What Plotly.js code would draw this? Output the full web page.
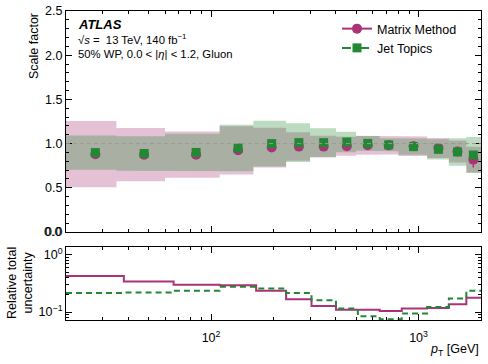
<!DOCTYPE html>
<html>
<head>
<meta charset="utf-8">
<script src="https://cdn.plot.ly/plotly-3.0.1.min.js"></script>
<style>body{margin:0;background:#fff}</style>
</head>
<body>
<div id="plot" style="width:488px;height:364px"></div>
<script>
// pT bin edges [GeV] of the scale factor bands (upper panel)
var sfEdges = [20, 35, 60, 110, 160, 230, 300, 400, 500, 650, 800, 1100, 1400, 1700, 2000];
// pT bin edges [GeV] of the uncertainty steps (lower panel)
var uncEdges = [20, 38, 66, 110, 165, 230, 305, 400, 510, 650, 830, 1100, 1400, 1700, 2000];
// marker positions [GeV]
var ptPoints = [27.7, 47.6, 84.7, 135, 196, 265, 349, 451, 569, 718, 946, 1247, 1541, 1837];

// Matrix Method
var mmSF = [0.88, 0.875, 0.875, 0.924, 0.955, 0.966, 0.966, 0.97, 0.981, 0.98, 0.97, 0.95, 0.91, 0.819];
var mmStat = [0.05, 0.04, 0.03, 0.03, 0.02, 0.02, 0.02, 0.02, 0.02, 0.02, 0.02, 0.03, 0.04, 0.09];
var mmUnc = [0.426, 0.344, 0.30, 0.296, 0.235, 0.167, 0.128, 0.110, 0.110, 0.104, 0.115, 0.118, 0.137, 0.177];

// Jet Topics
var jtSF = [0.898, 0.888, 0.9, 0.95, 1.0, 1.011, 1.011, 1.018, 1.003, 0.986, 0.966, 0.935, 0.905, 0.871];
var jtStat = [0.03, 0.03, 0.02, 0.02, 0.02, 0.02, 0.02, 0.02, 0.02, 0.02, 0.02, 0.02, 0.03, 0.04];
var jtUnc = [0.216, 0.22, 0.235, 0.276, 0.258, 0.216, 0.16, 0.115, 0.084, 0.075, 0.094, 0.123, 0.172, 0.235];

var mmColor = '#aa3377';
var jtColor = '#228833';
var font = 'Liberation Sans, Arial, sans-serif';

// closed step polygon: upper edge left->right, lower edge right->left
function bandPoly(edges, sf, unc) {
  var xs = [], ys = [];
  for (var i = 0; i < sf.length; i++) {
    xs.push(edges[i], edges[i + 1]);
    ys.push(sf[i] * (1 + unc[i]), sf[i] * (1 + unc[i]));
  }
  for (var j = sf.length - 1; j >= 0; j--) {
    xs.push(edges[j + 1], edges[j]);
    ys.push(sf[j] * (1 - unc[j]), sf[j] * (1 - unc[j]));
  }
  return {x: xs, y: ys};
}

var mmBand = bandPoly(sfEdges, mmSF, mmUnc);
var jtBand = bandPoly(sfEdges, jtSF, jtUnc);

var data = [];

data.push({
  x: mmBand.x, y: mmBand.y, type: 'scatter', mode: 'lines',
  fill: 'toself', fillcolor: 'rgba(170,51,119,0.3)',
  line: {width: 0}, hoverinfo: 'skip', showlegend: false
});
data.push({
  x: jtBand.x, y: jtBand.y, type: 'scatter', mode: 'lines',
  fill: 'toself', fillcolor: 'rgba(34,136,51,0.3)',
  line: {width: 0}, hoverinfo: 'skip', showlegend: false
});

data.push({
  x: ptPoints, y: mmSF, type: 'scatter', mode: 'markers',
  marker: {color: mmColor, size: 10, symbol: 'circle'},
  error_y: {type: 'data', array: mmStat, color: mmColor, thickness: 1.5, width: 0},
  showlegend: false
});
data.push({
  x: ptPoints, y: jtSF, type: 'scatter', mode: 'markers',
  marker: {color: jtColor, size: 9, symbol: 'square'},
  error_y: {type: 'data', array: jtStat, color: jtColor, thickness: 1.5, width: 0},
  showlegend: false
});

// legend entries
data.push({
  x: [null], y: [null], type: 'scatter', mode: 'lines+markers', name: 'Matrix Method',
  line: {color: mmColor, width: 2}, marker: {color: mmColor, size: 10, symbol: 'circle'}
});
data.push({
  x: [null], y: [null], type: 'scatter', mode: 'lines+markers', name: 'Jet Topics',
  line: {color: jtColor, width: 2, dash: 'dash'}, marker: {color: jtColor, size: 9, symbol: 'square'}
});

// lower panel steps
data.push({
  x: uncEdges, y: mmUnc.concat([mmUnc[mmUnc.length - 1]]),
  xaxis: 'x2', yaxis: 'y2', type: 'scatter', mode: 'lines',
  line: {shape: 'hv', color: mmColor, width: 2}, showlegend: false
});
data.push({
  x: uncEdges, y: jtUnc.concat([jtUnc[jtUnc.length - 1]]),
  xaxis: 'x2', yaxis: 'y2', type: 'scatter', mode: 'lines',
  line: {shape: 'hv', color: jtColor, width: 2, dash: '6px,4px'}, showlegend: false
});

var W = 488, H = 364, L = 66, R = 7, T = 11, B = 44;
function px(x) { return (x - L) / (W - L - R); }
function py(y) { return (H - B - y) / (H - T - B); }

var xMinor = [20, 30, 40, 50, 60, 70, 80, 90, 200, 300, 400, 500, 600, 700, 800, 900];
var axisBase = {
  showline: true, linecolor: '#000', linewidth: 1, mirror: 'ticks',
  ticks: 'inside', ticklen: 6, tickcolor: '#000', tickwidth: 1,
  showgrid: false, zeroline: false,
  tickfont: {family: font, size: 12.5, color: '#000'}
};

var layout = {
  width: W, height: H,
  margin: {l: L, r: R, t: T, b: B},
  paper_bgcolor: '#fff', plot_bgcolor: '#fff',
  font: {family: font, size: 12, color: '#000'},
  showlegend: true,
  legend: {
    x: px(337), xanchor: 'left', y: py(14), yanchor: 'top',
    bgcolor: 'rgba(0,0,0,0)', font: {family: font, size: 12.5},
    itemwidth: 30, tracegroupgap: 0
  },
  xaxis: Object.assign({}, axisBase, {
    type: 'log', range: [Math.log10(20), Math.log10(2000)], anchor: 'y',
    tickvals: [100, 1000], showticklabels: false,
    minor: {ticks: 'inside', ticklen: 3, tickcolor: '#000', tickvals: xMinor}
  }),
  yaxis: Object.assign({}, axisBase, {
    range: [0, 2.5], domain: [py(232), 1], anchor: 'x',
    tickmode: 'linear', tick0: 0, dtick: 0.5, tickformat: '.1f',
    minor: {ticks: 'inside', ticklen: 3, tickcolor: '#000', dtick: 0.1, tick0: 0}
  }),
  xaxis2: Object.assign({}, axisBase, {
    type: 'log', range: [Math.log10(20), Math.log10(2000)], anchor: 'y2', matches: 'x',
    tickvals: [100, 1000], ticktext: ['10<sup>2</sup>', '10<sup>3</sup>'],
    ticklabelstandoff: 6,
    minor: {ticks: 'inside', ticklen: 3, tickcolor: '#000', tickvals: xMinor}
  }),
  yaxis2: Object.assign({}, axisBase, {
    type: 'log', range: [-1.14, 0.14], domain: [0, py(247)], anchor: 'x2',
    tickvals: [0.1, 1], ticktext: ['10<sup>\u22121</sup>', '10<sup>0</sup>'],
    minor: {ticks: 'inside', ticklen: 3, tickcolor: '#000',
            tickvals: [0.08, 0.09, 0.2, 0.3, 0.4, 0.5, 0.6, 0.7, 0.8, 0.9]}
  }),
  shapes: [
    {type: 'line', xref: 'x domain', yref: 'y', x0: 0, x1: 1, y0: 1, y1: 1,
     line: {color: '#999', width: 1, dash: '4px,3px'}, layer: 'above'},
    {type: 'line', xref: 'x2 domain', yref: 'y2', x0: 0, x1: 1, y0: 0, y1: 0,
     line: {color: '#bbb', width: 1, dash: '3px,2px'}, layer: 'below'}
  ],
  annotations: [
    // bottom tick label of the upper panel (plotly drops the one at the range edge)
    {text: '0.0', xref: 'paper', yref: 'paper', x: px(63), y: py(232),
     xanchor: 'right', yanchor: 'middle', showarrow: false, font: {family: font, size: 12.5}},
    {text: '<b><i>ATLAS</i></b>', xref: 'paper', yref: 'paper', x: px(76), y: py(24),
     xanchor: 'left', yanchor: 'middle', showarrow: false, font: {family: font, size: 13}},
    {text: '\u221a<i>s</i> =  13 TeV, 140 fb<sup>\u22121</sup>', xref: 'paper', yref: 'paper',
     x: px(76), y: py(39), xanchor: 'left', yanchor: 'middle', showarrow: false,
     font: {family: font, size: 11.3}},
    {text: '50% WP, 0.0 < |<i>\u03b7</i>| < 1.2, Gluon', xref: 'paper', yref: 'paper',
     x: px(76), y: py(54), xanchor: 'left', yanchor: 'middle', showarrow: false,
     font: {family: font, size: 11.3}},
    {text: 'Scale factor', xref: 'paper', yref: 'paper', x: px(34), y: py(46),
     xanchor: 'center', yanchor: 'middle', textangle: -90, showarrow: false,
     font: {family: font, size: 12.5}},
    {text: 'Relative total<br>uncertainty', xref: 'paper', yref: 'paper', x: px(20), y: py(283),
     xanchor: 'center', yanchor: 'middle', textangle: -90, showarrow: false,
     font: {family: font, size: 12.5}},
    {text: '<i>p</i><sub>T</sub> [GeV]', xref: 'paper', yref: 'paper', x: 1, y: py(350),
     xanchor: 'right', yanchor: 'middle', showarrow: false, font: {family: font, size: 12.5}}
  ]
};

Plotly.newPlot('plot', data, layout, {displayModeBar: false, staticPlot: true});
</script>
</body>
</html>
